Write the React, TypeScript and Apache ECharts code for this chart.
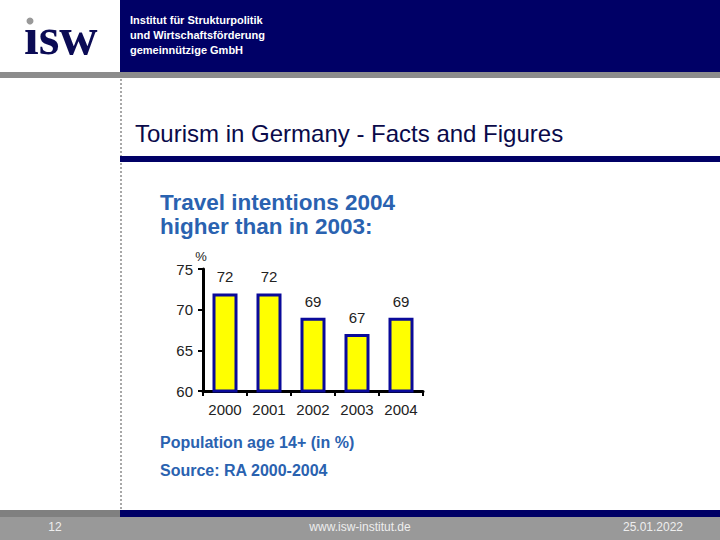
import React, { useEffect, useRef } from "react";
import * as echarts from "echarts";

const categories = ["2000", "2001", "2002", "2003", "2004"];
const values = [72, 72, 69, 67, 69];
const yTicks = { min: 60, max: 75, interval: 5 };
const headerLines = ["Institut für Strukturpolitik", "und Wirtschaftsförderung", "gemeinnützige GmbH"];
const slideTitle = "Tourism in Germany - Facts and Figures";
const chartTitle = ["Travel intentions 2004", "higher than in 2003:"];
const notes = ["Population age 14+ (in %)", "Source: RA 2000-2004"];
const footer = { page: "12", url: "www.isw-institut.de", date: "25.01.2022" };

const NAVY = "#000066";
const BLUE = "#2a62b0";
const FONT = "Liberation Sans, Arial, sans-serif";

export default function App() {
  const ref = useRef<HTMLDivElement>(null);
  useEffect(() => {
    if (!ref.current) return;
    const chart = echarts.init(ref.current, undefined, { renderer: "svg" });
    chart.setOption({
      animation: false,
      backgroundColor: "#ffffff",
      textStyle: { fontFamily: FONT },
      grid: { left: 203, right: 297, top: 269, bottom: 149 },
      xAxis: {
        type: "category",
        data: categories,
        boundaryGap: true,
        axisLine: { show: true, lineStyle: { color: "#000", width: 3 } },
        axisTick: { show: true, alignWithLabel: false, length: 5, lineStyle: { color: "#000", width: 2 } },
        axisLabel: { color: "#222", fontSize: 15, margin: 11, fontFamily: FONT },
      },
      yAxis: {
        type: "value",
        min: yTicks.min,
        max: yTicks.max,
        interval: yTicks.interval,
        splitLine: { show: false },
        axisLine: { show: true, lineStyle: { color: "#000", width: 3 } },
        axisTick: { show: true, length: 5, lineStyle: { color: "#000", width: 2 } },
        axisLabel: { color: "#222", fontSize: 15, margin: 10, fontFamily: FONT },
      },
      series: [
        {
          type: "bar",
          data: values,
          barWidth: 25,
          itemStyle: { color: "#ffff00", borderColor: "#0a0a9a", borderWidth: 3 },
          label: { show: true, position: "top", distance: 9, color: "#222", fontSize: 15, fontFamily: FONT },
        },
      ],
      graphic: [
        { type: "rect", shape: { x: 120, y: 0, width: 600, height: 72 }, style: { fill: NAVY } },
        { type: "rect", shape: { x: 0, y: 72, width: 720, height: 6 }, style: { fill: "#8c8c8c" } },
        { type: "line", shape: { x1: 121, y1: 79, x2: 121, y2: 510 }, style: { stroke: "#a8a8a8", lineWidth: 2, lineDash: [2, 2] } },
        { type: "text", x: 24, y: 36, style: { text: "ısw", font: "bold 53px 'Liberation Serif', serif", fill: "#0b0b55", verticalAlign: "middle", align: "left" } },
        { type: "circle", shape: { cx: 30, cy: 21, r: 3.5 }, style: { fill: "#999" } },
        ...headerLines.map((t, i) => ({
          type: "text", x: 130, y: 20 + i * 15,
          style: { text: t, font: `bold 11px ${FONT}`, fill: "#ffffff", verticalAlign: "middle" },
        })),
        { type: "text", x: 135, y: 133, style: { text: slideTitle, font: `24px ${FONT}`, fill: "#0a0a4a", verticalAlign: "middle" } },
        { type: "rect", shape: { x: 120, y: 156, width: 600, height: 6 }, style: { fill: NAVY } },
        ...chartTitle.map((t, i) => ({
          type: "text", x: 160, y: 202 + i * 24,
          style: { text: t, font: `bold 22.5px ${FONT}`, fill: BLUE, verticalAlign: "middle" },
        })),
        { type: "text", x: 201, y: 256, style: { text: "%", font: `13px ${FONT}`, fill: "#222", verticalAlign: "middle", align: "center" } },
        ...notes.map((t, i) => ({
          type: "text", x: 160, y: 442 + i * 28,
          style: { text: t, font: `bold 16px ${FONT}`, fill: BLUE, verticalAlign: "middle" },
        })),
        { type: "rect", shape: { x: 0, y: 517, width: 720, height: 23 }, style: { fill: "#999999" } },
        { type: "rect", shape: { x: 0, y: 510, width: 120, height: 7 }, style: { fill: "#808080" } },
        { type: "rect", shape: { x: 120, y: 510, width: 600, height: 7 }, style: { fill: NAVY } },
        { type: "text", x: 55, y: 527, style: { text: footer.page, font: `12px ${FONT}`, fill: "#eeeeee", verticalAlign: "middle", align: "center" } },
        { type: "text", x: 360, y: 527, style: { text: footer.url, font: `12px ${FONT}`, fill: "#eeeeee", verticalAlign: "middle", align: "center" } },
        { type: "text", x: 653, y: 527, style: { text: footer.date, font: `12px ${FONT}`, fill: "#eeeeee", verticalAlign: "middle", align: "center" } },
      ],
    });
    return () => chart.dispose();
  }, []);
  return <div ref={ref} style={{ position: "fixed", left: 0, top: 0, width: 720, height: 540 }} />;
}
